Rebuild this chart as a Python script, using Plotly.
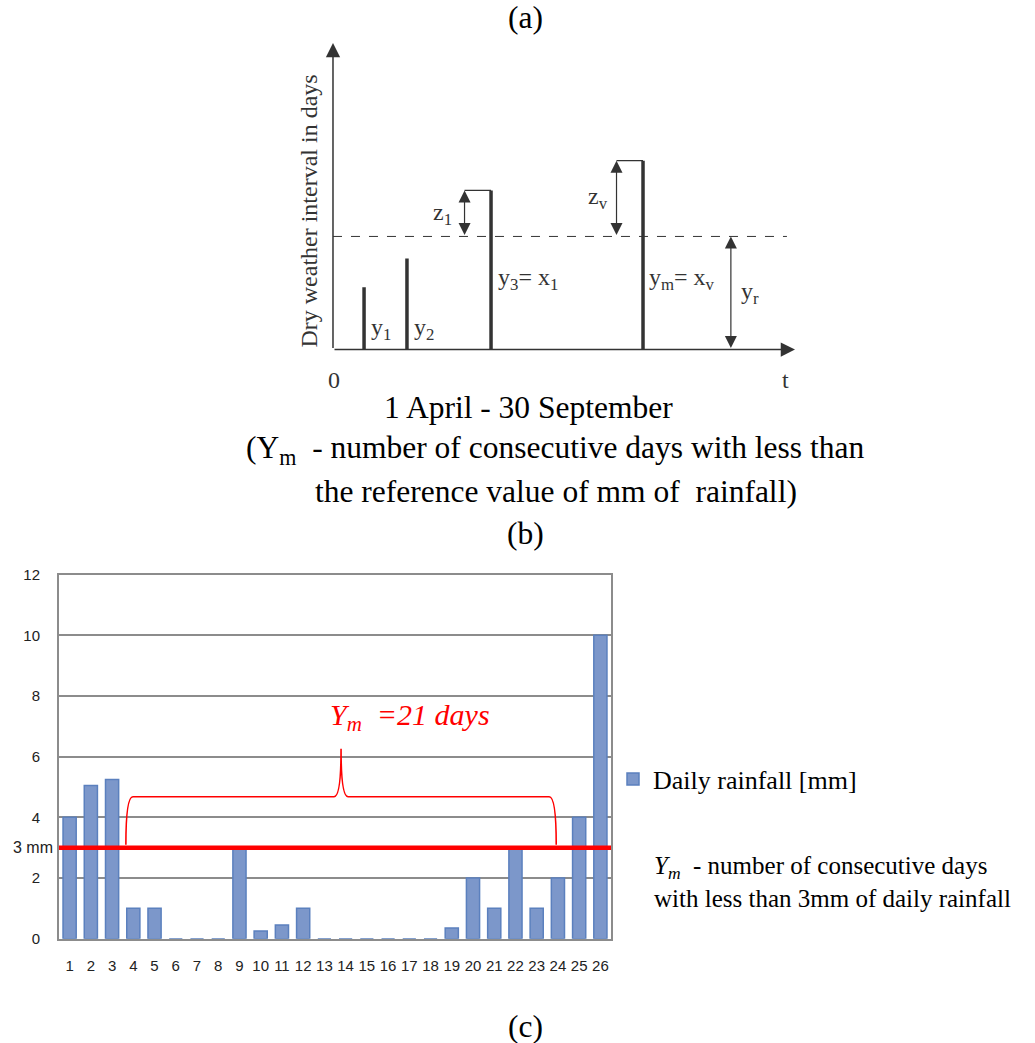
import plotly.graph_objects as go

W, H = 1035, 1043

# ---------------- data: bar chart (b) ----------------
days = list(range(1, 27))
day_labels = [str(d) for d in days]
rain_mm = [4.0, 5.05, 5.25, 1.0, 1.0, 0, 0, 0, 3.0, 0.25, 0.45, 1.0,
           0, 0, 0, 0, 0, 0, 0.35, 2.0, 1.0, 3.0, 1.0, 2.0, 4.0, 10.0]
y_ticks = [0, 2, 4, 6, 8, 10, 12]
threshold_mm = 3
ym_start_day = 4
ym_end_day = 24
ym_days = 21

# ---------------- data: schematic diagram (a) ----------------
event_t = [12.3, 29.3, 62.6, 122.8]          # time of each dry interval (days since 1 April)
event_len = [5.5, 8.05, 14.07, 16.7]         # dry weather interval length (days)
event_names = ["y<sub>1</sub>", "y<sub>2</sub>", "y<sub>3</sub>= x<sub>1</sub>", "y<sub>m</sub>= x<sub>v</sub>"]
exceed_names = ["z<sub>1</sub>", "z<sub>v</sub>"]
y_ref = 10.0                                 # reference interval y_r
t_max = 183
y_max = 27.1

SERIF = "Liberation Serif"
SANS = "Liberation Sans"
DARK = "#333333"
GRID = "#8C8C8C"


def vy(y):
    """vertical layout position (px from top) compensating the capture's vertical fit"""
    return (y - 9.5) / 0.9835


# diagram placement (pixels of the origin and scale)
ox, oy = 333, vy(350)
kx, ky = 462 / t_max, (vy(350) - vy(43.5)) / y_max
x2_rng = [-14, 192]
y2_rng = [-4.2, y_max]
x2_dom = [(ox + x2_rng[0] * kx) / W, (ox + x2_rng[1] * kx) / W]
y2_dom = [(H - (oy - y2_rng[0] * ky)) / H, (H - (oy - y2_rng[1] * ky)) / H]

fig = go.Figure()

# ---- bar chart ----
fig.add_trace(go.Bar(
    x=days, y=rain_mm, name="Daily rainfall [mm]",
    marker=dict(color="#7C97CA", line=dict(color="#5B80BE", width=1.5)),
    width=0.62, xaxis="x", yaxis="y", showlegend=True, hoverinfo="x+y"))

# ---- schematic diagram traces ----
bx, by = [], []
for t, h in zip(event_t, event_len):
    bx += [t, t, None]
    by += [0, h, None]
fig.add_trace(go.Scatter(x=bx, y=by, mode="lines", line=dict(color=DARK, width=3.5),
                         xaxis="x2", yaxis="y2", showlegend=False, hoverinfo="skip"))

cap = 10.5
cx, cy = [], []
exceed = [(t, h) for t, h in zip(event_t, event_len) if h > y_ref]
for t, h in exceed:
    cx += [t - cap, t, None]
    cy += [h, h, None]
fig.add_trace(go.Scatter(x=cx, y=cy, mode="lines", line=dict(color=DARK, width=1.3),
                         xaxis="x2", yaxis="y2", showlegend=False, hoverinfo="skip"))

fig.add_trace(go.Scatter(x=[0, 179.8], y=[y_ref, y_ref], mode="lines",
                         line=dict(color=DARK, width=1, dash="dash"),
                         xaxis="x2", yaxis="y2", showlegend=False, hoverinfo="skip"))

ann = []

def arrow(x, y, ax, ay, both=False, width=1.2, size=2.0):
    d = dict(x=x, y=y, ax=ax, ay=ay, xref="x2", yref="y2", axref="x2", ayref="y2",
             text="", showarrow=True, arrowhead=2, arrowsize=size, arrowwidth=width,
             arrowcolor=DARK, standoff=0, startstandoff=0)
    if both:
        d.update(arrowside="end+start", startarrowhead=2, startarrowsize=size)
    ann.append(d)

# axes of the diagram
arrow(0, y_max, 0, 0, width=1.5, size=1.9)
arrow(t_max, 0, 0, 0, width=1.5, size=1.9)
# exceedance arrows z
for t, h in exceed:
    arrow(t - cap, h, t - cap, y_ref, both=True)
# reference arrow y_r
yr_t = 157.6
arrow(yr_t, y_ref, yr_t, 0, both=True)

def dtext(x, y, s, size=24, angle=0):
    ann.append(dict(x=x, y=y, xref="x2", yref="y2", text=s, showarrow=False, textangle=angle,
                    font=dict(family=SERIF, size=size, color=DARK),
                    xanchor="center", yanchor="middle"))

dtext(event_t[0] + 6.7, 1.86, event_names[0])
dtext(event_t[1] + 6.7, 1.86, event_names[1])
dtext(event_t[2] + 14.6, 6.2, event_names[2])
dtext(event_t[3] + 15.4, 6.2, event_names[3])
dtext(exceed[0][0] - cap - 8.7, 12.0, exceed_names[0])
dtext(exceed[1][0] - cap - 7.2, 13.4, exceed_names[1])
dtext(yr_t + 7.5, 5.0, "y<sub>r</sub>")
dtext(0.4, -2.65, "0")
dtext(179.4, -2.65, "t")
dtext(-9.5, 12.2, "Dry weather interval in days", angle=-90)

# ---- captions ----
def ptext(xp, yp, s, size=31.5, color="black", anchor="center"):
    ann.append(dict(x=xp / W, y=1 - vy(yp) / H, xref="paper", yref="paper", text=s, showarrow=False,
                    font=dict(family=SERIF, size=size, color=color), align="left",
                    xanchor=anchor, yanchor="middle"))

ptext(525, 18, "(a)")
ptext(528, 408, "1 April - 30 September")
ptext(555, 450, "(Y<sub>m</sub>  - number of consecutive days with less than")
ptext(556, 492, "the reference value of mm of  rainfall)")
ptext(525, 534, "(b)")
ptext(525, 1027, "(c)")

ptext(652, 882.5, "<i>Y<sub>m</sub></i>  - number of consecutive days<br>with less than 3mm of daily rainfall",
      size=25, anchor="left")

# ---- bar chart extras ----
ann.append(dict(x=55 / W, y=threshold_mm, xref="paper", yref="y", text="3 mm", showarrow=False,
                font=dict(family=SANS, size=16, color="#222"), xanchor="right", yanchor="middle"))

brace_x0 = ym_start_day - 0.35
brace_x1 = ym_end_day - 0.08
brace_mid = (brace_x0 + brace_x1) / 2
by0, byh, byp = threshold_mm + 0.1, 4.68, 6.26
dx = 0.33
path = (f"M {brace_x0},{by0} Q {brace_x0},{byh} {brace_x0 + dx},{byh} "
        f"L {brace_mid - dx},{byh} Q {brace_mid},{byh} {brace_mid},{byp} "
        f"Q {brace_mid},{byh} {brace_mid + dx},{byh} "
        f"L {brace_x1 - dx},{byh} Q {brace_x1},{byh} {brace_x1},{by0}")

shapes = [
    dict(type="line", xref="x", yref="y", x0=0.5, x1=26.7, y0=threshold_mm, y1=threshold_mm,
         line=dict(color="#FF0000", width=4.5), layer="above"),
    dict(type="path", xref="x", yref="y", path=path, line=dict(color="#FF0000", width=1.6)),
]

ann.append(dict(x=brace_mid - 0.6, y=7.3, xref="x", yref="y", xanchor="left", yanchor="middle",
                text=f"<i>Y<sub>m</sub>  ={ym_days} days</i>", showarrow=False,
                font=dict(family=SERIF, size=30, color="#FF0000")))

fig.update_layout(
    width=W, height=H, margin=dict(l=0, r=0, t=0, b=0), autosize=False,
    paper_bgcolor="white", plot_bgcolor="white",
    bargap=0.38,
    xaxis=dict(domain=[59 / W, 611 / W], range=[0.5, 26.5], tickmode="array",
               tickvals=days, ticktext=day_labels, showgrid=False, zeroline=False,
               showline=True, mirror=True, linecolor=GRID, linewidth=2, ticks="",
               ticklabelstandoff=12, tickfont=dict(family=SANS, size=15, color="#222"),
               anchor="y", fixedrange=True),
    yaxis=dict(domain=[(H - vy(939)) / H, (H - vy(575)) / H], range=[0, 12], tickmode="array",
               tickvals=y_ticks, showgrid=True, gridcolor=GRID, gridwidth=2,
               zeroline=False, showline=True, mirror=True, linecolor=GRID, linewidth=2,
               ticks="", ticklabelstandoff=14,
               tickfont=dict(family=SANS, size=15, color="#222"), anchor="x", fixedrange=True),
    xaxis2=dict(domain=x2_dom, range=x2_rng, visible=False, anchor="y2", fixedrange=True),
    yaxis2=dict(domain=y2_dom, range=y2_rng, visible=False, anchor="x2", fixedrange=True),
    legend=dict(x=613 / W, y=1 - vy(756) / H, xanchor="left", yanchor="top",
                font=dict(family=SERIF, size=26, color="black"), bgcolor="rgba(0,0,0,0)",
                itemwidth=30),
    annotations=ann, shapes=shapes,
)

post = ("document.documentElement.style.margin='0';document.body.style.margin='0';"
        "document.documentElement.style.overflow='hidden';document.body.style.overflow='hidden';"
        "var gd=document.getElementById('{plot_id}');gd.style.position='fixed';"
        "gd.style.top='0px';gd.style.left='0px';")

fig.write_html("out.html", config={"responsive": False, "displayModeBar": False},
               post_script=post)
